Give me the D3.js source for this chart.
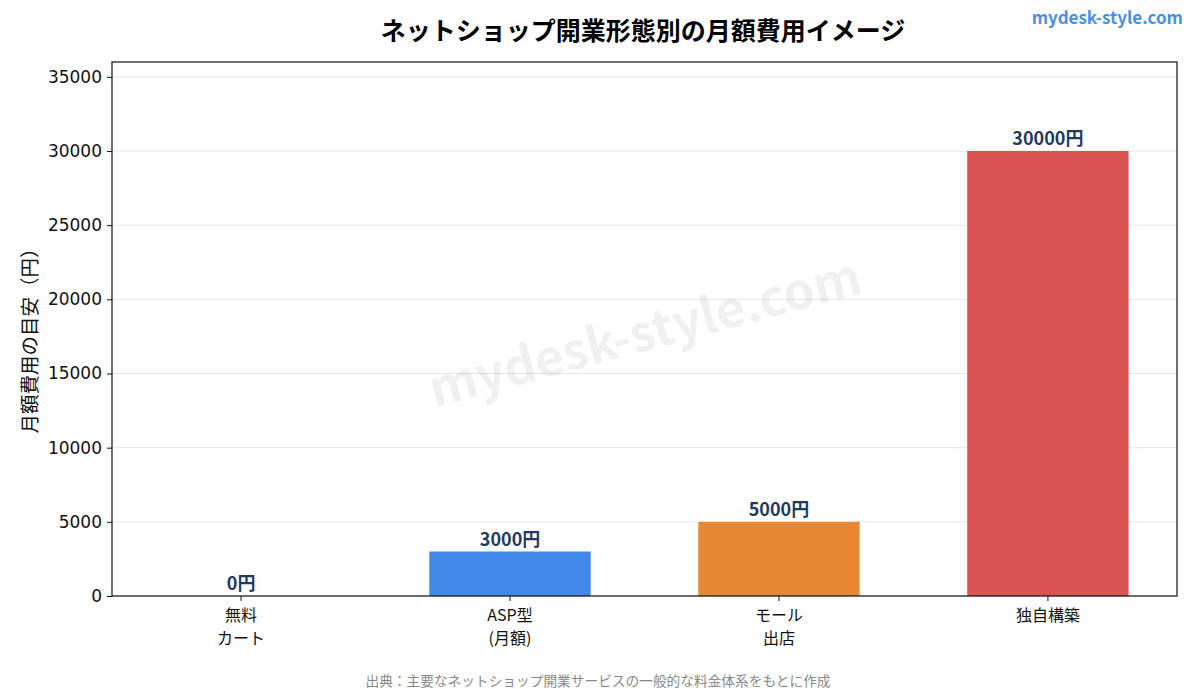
<!DOCTYPE html>
<html lang="ja">
<head>
  <meta charset="UTF-8">
  <title>ネットショップ開業形態別の月額費用イメージ</title>
  <script src="https://d3js.org/d3.v7.min.js"></script>
  <style>
    body { margin: 0; background: #fff; font-family: "Noto Sans CJK JP", "Noto Sans", sans-serif; }
    svg text { font-family: "Noto Sans CJK JP", "Noto Sans", sans-serif; }
  </style>
</head>
<body>
  <div id="chart"></div>

  <script>
    // データ
    const categories = ["無料\nカート", "ASP型\n(月額)", "モール\n出店", "独自構築"];
    const costs = [0, 3000, 5000, 30000];
    const barColors = ["#4189e8", "#4189e8", "#e88834", "#d95353"];
    const yTicks = [0, 5000, 10000, 15000, 20000, 25000, 30000, 35000];

    const W = 1196, H = 689;
    const margin = {top: 62, right: 19, bottom: 93, left: 112};
    const width = W - margin.left - margin.right,
          height = H - margin.top - margin.bottom;

    const svg = d3.select("#chart").append("svg")
                  .attr("width", W)
                  .attr("height", H);

    const g = svg.append("g").attr("transform", `translate(${margin.left},${margin.top})`);

    const x = d3.scaleLinear().domain([-0.48, categories.length - 1 + 0.48]).range([0, width]);
    const y = d3.scaleLinear().domain([0, 36000]).range([height, 0]);
    const barW = x(0.6) - x(0);

    // グリッド
    g.append("g").selectAll("line")
     .data(yTicks)
     .enter().append("line")
     .attr("x1", 0).attr("x2", width)
     .attr("y1", d => y(d)).attr("y2", d => y(d))
     .attr("stroke", "#e6e6e6")
     .attr("stroke-width", 1);

    // ウォーターマーク
    svg.append("text")
       .attr("transform", "translate(645,333) rotate(-15)")
       .attr("text-anchor", "middle")
       .attr("dy", "0.35em")
       .attr("font-size", 50)
       .attr("font-weight", "bold")
       .attr("fill", "#000")
       .attr("fill-opacity", 0.06)
       .text("mydesk-style.com");

    // 棒
    g.selectAll(".bar")
     .data(costs)
     .enter().append("rect")
     .attr("class", "bar")
     .attr("x", (d, i) => x(i) - barW / 2)
     .attr("y", d => y(d))
     .attr("width", barW)
     .attr("height", d => height - y(d))
     .attr("fill", (d, i) => barColors[i]);

    // 値ラベル
    g.selectAll(".label")
     .data(costs)
     .enter().append("text")
     .attr("x", (d, i) => x(i))
     .attr("y", d => y(d) - 6)
     .attr("text-anchor", "middle")
     .attr("font-size", 18)
     .attr("font-weight", "bold")
     .attr("fill", "#1f3a5f")
     .text(d => `${d}円`);

    // Y軸
    const yAxis = g.append("g")
      .call(d3.axisLeft(y).tickValues(yTicks).tickSize(5).tickPadding(5).tickFormat(d => d));
    yAxis.select(".domain").remove();
    yAxis.selectAll("text").attr("font-size", 17).attr("fill", "#111")
         .style("font-family", "'DejaVu Sans', sans-serif");
    yAxis.selectAll("line").attr("stroke", "#111");

    // X軸
    const xAxis = g.append("g").attr("transform", `translate(0,${height})`);
    categories.forEach((c, i) => {
      xAxis.append("line")
           .attr("x1", x(i)).attr("x2", x(i))
           .attr("y1", 0).attr("y2", 5)
           .attr("stroke", "#111");
      c.split("\n").forEach((line, k) => {
        xAxis.append("text")
             .attr("x", x(i))
             .attr("y", 25 + k * 23)
             .attr("text-anchor", "middle")
             .attr("font-size", 16)
             .attr("fill", "#111")
             .text(line);
      });
    });

    // 枠
    g.append("rect")
     .attr("width", width).attr("height", height)
     .attr("fill", "none")
     .attr("stroke", "#111")
     .attr("stroke-width", 1.2);

    // Y軸タイトル
    svg.append("text")
       .attr("transform", "translate(37,336) rotate(-90)")
       .attr("text-anchor", "middle")
       .attr("font-size", 19.5)
       .attr("fill", "#111")
       .text("月額費用の目安（円）");

    // タイトル
    svg.append("text")
       .attr("x", 643).attr("y", 40)
       .attr("text-anchor", "middle")
       .attr("font-size", 25)
       .attr("font-weight", "bold")
       .attr("fill", "#000")
       .text("ネットショップ開業形態別の月額費用イメージ");

    svg.append("text")
       .attr("x", 1183).attr("y", 24)
       .attr("text-anchor", "end")
       .attr("font-size", 17)
       .attr("font-weight", "bold")
       .attr("fill", "#4a90e2")
       .text("mydesk-style.com");

    // 出典
    svg.append("text")
       .attr("x", 598).attr("y", 686)
       .attr("text-anchor", "middle")
       .attr("font-size", 13.7)
       .attr("fill", "#888")
       .text("出典：主要なネットショップ開業サービスの一般的な料金体系をもとに作成");
  </script>
</body>
</html>
